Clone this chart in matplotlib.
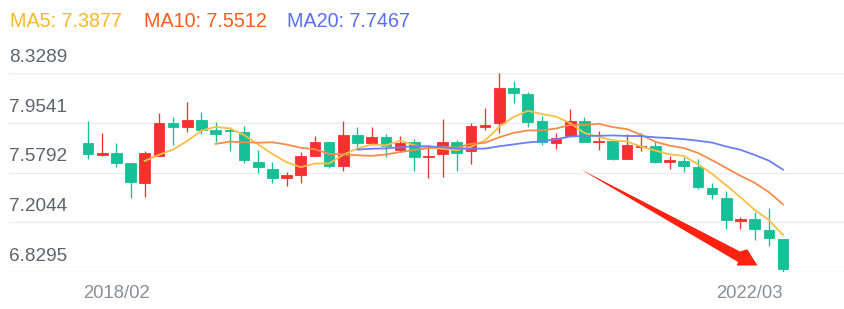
import matplotlib.pyplot as plt
import matplotlib.transforms as mtrans
from matplotlib.patches import Polygon
import numpy as np
import pandas as pd

plt.rcParams['font.family'] = ['Liberation Sans', 'DejaVu Sans']

# daily K data
opens = [7.802, 7.711, 7.726, 7.651, 7.500, 7.704, 7.952, 7.922, 7.975, 7.899,
         7.899, 7.884, 7.658, 7.606, 7.538, 7.560, 7.704, 7.809, 7.628, 7.862,
         7.802, 7.847, 7.749, 7.809, 7.696, 7.719, 7.809, 7.741, 7.922, 7.952,
         8.216, 8.171, 7.967, 7.802, 7.854, 7.967, 7.809, 7.817, 7.681, 7.771,
         7.779, 7.658, 7.666, 7.621, 7.462, 7.387, 7.214, 7.229, 7.146, 7.078]
closes = [7.719, 7.726, 7.651, 7.508, 7.726, 7.952, 7.922, 7.975, 7.899, 7.869,
          7.892, 7.674, 7.621, 7.538, 7.560, 7.704, 7.809, 7.628, 7.862, 7.802,
          7.847, 7.779, 7.802, 7.696, 7.704, 7.809, 7.726, 7.930, 7.937, 8.216,
          8.178, 7.960, 7.809, 7.839, 7.967, 7.809, 7.817, 7.681, 7.786, 7.779,
          7.658, 7.674, 7.628, 7.470, 7.417, 7.221, 7.229, 7.153, 7.086, 6.852]
highs = [7.967, 7.877, 7.802, 7.651, 7.741, 8.028, 7.997, 8.110, 8.035, 7.960,
         7.922, 7.930, 7.749, 7.658, 7.583, 7.734, 7.854, 7.809, 7.967, 7.922,
         7.922, 7.869, 7.854, 7.832, 7.786, 7.982, 7.824, 7.952, 8.065, 8.329,
         8.269, 8.186, 8.005, 7.877, 8.058, 7.997, 7.892, 7.817, 7.869, 7.877,
         7.817, 7.704, 7.696, 7.681, 7.500, 7.440, 7.244, 7.282, 7.312, 7.078]
lows = [7.681, 7.704, 7.621, 7.387, 7.395, 7.704, 7.786, 7.884, 7.869, 7.809,
        7.741, 7.651, 7.575, 7.500, 7.477, 7.500, 7.704, 7.613, 7.591, 7.771,
        7.786, 7.696, 7.734, 7.591, 7.538, 7.545, 7.591, 7.643, 7.899, 7.877,
        8.103, 7.922, 7.786, 7.756, 7.854, 7.809, 7.749, 7.674, 7.681, 7.741,
        7.651, 7.606, 7.583, 7.455, 7.380, 7.153, 7.153, 7.071, 7.025, 6.829]

ma_windows = [5, 10, 20]
ma_names = ['MA5', 'MA10', 'MA20']
ma_legend_values = ['7.3877', '7.5512', '7.7467']
y_ticks = [8.3289, 7.9541, 7.5792, 7.2044, 6.8295]
x_labels = ['2018/02', '2022/03']
x_label_pos = [-0.35, 49.0]

# arrow drawn on the chart (candle index, price)
arrow_x = [34.69, 45.97, 46.48, 47.20, 45.73, 45.83]
arrow_y = [7.6056, 6.9840, 7.0005, 6.8785, 6.8785, 6.9048]

up_col = '#f5312f'
down_col = '#14c095'
line_cols = ['#fbbf45', '#f98b4c', '#6b7ff2']
text_cols = ['#f9b82a', '#fb5b1b', '#5b6ef0']

W, H = 844, 309
fig = plt.figure(figsize=(W / 100, H / 100), dpi=100)
ax = fig.add_axes([9 / W, (H - 272) / H, 835 / W, 199 / H])

n = len(closes)
x = np.arange(n)
o = np.array(opens)
c = np.array(closes)
cols = [up_col if c[i] >= o[i] else down_col for i in range(n)]

# grid lines
for yv in y_ticks:
    ax.axhline(yv, color='#ececec', lw=1.0, zorder=0)
    ax.annotate(f'{yv:.4f}', xy=(0, yv), xycoords=('axes fraction', 'data'),
                xytext=(0, 8), textcoords='offset points', ha='left', va='baseline',
                fontsize=13.7, color='#60626d')

# candles
ax.vlines(x, lows, highs, colors=cols, lw=0.95, zorder=2)
body = np.where(np.abs(c - o) < 0.002, 0.002, c - o)
ax.bar(x, body, bottom=o, width=0.75, color=cols, edgecolor=cols, lw=0.6, zorder=3)

# moving averages
cs = pd.Series(closes)
for w, col in zip(ma_windows, line_cols):
    ma = cs.rolling(w).mean()
    ax.plot(x, ma, color=col, lw=1.3, zorder=4, solid_joinstyle='round')

# red arrow
arrow = Polygon(np.column_stack([arrow_x, arrow_y]), closed=True, facecolor='#ff2211',
                edgecolor='none', zorder=5, clip_on=False)
ax.add_patch(arrow)

ax.set_xlim((9 - 88) / 14.184, (844 - 88) / 14.184)
ax.set_ylim(y_ticks[-1], y_ticks[0])
for s in ax.spines.values():
    s.set_visible(False)
ax.set_xticks([])
ax.set_yticks([])
ax.patch.set_alpha(0)

# x labels
for lab, xp, ha in zip(x_labels, x_label_pos, ['left', 'right']):
    ax.annotate(lab, xy=(xp, y_ticks[-1]), xycoords='data', xytext=(0, -19),
                textcoords='offset points', ha=ha, va='baseline',
                fontsize=13.3, color='#8b8d98', annotation_clip=False)

# legend texts
leg_x = [10, 144, 287]
for name, val, col, lx in zip(ma_names, ma_legend_values, text_cols, leg_x):
    fig.text(lx / W, 1 - 26.8 / H, f'{name}: {val}', color=col, fontsize=14.2,
             ha='left', va='baseline')

fig.savefig('out.png', dpi=100)
